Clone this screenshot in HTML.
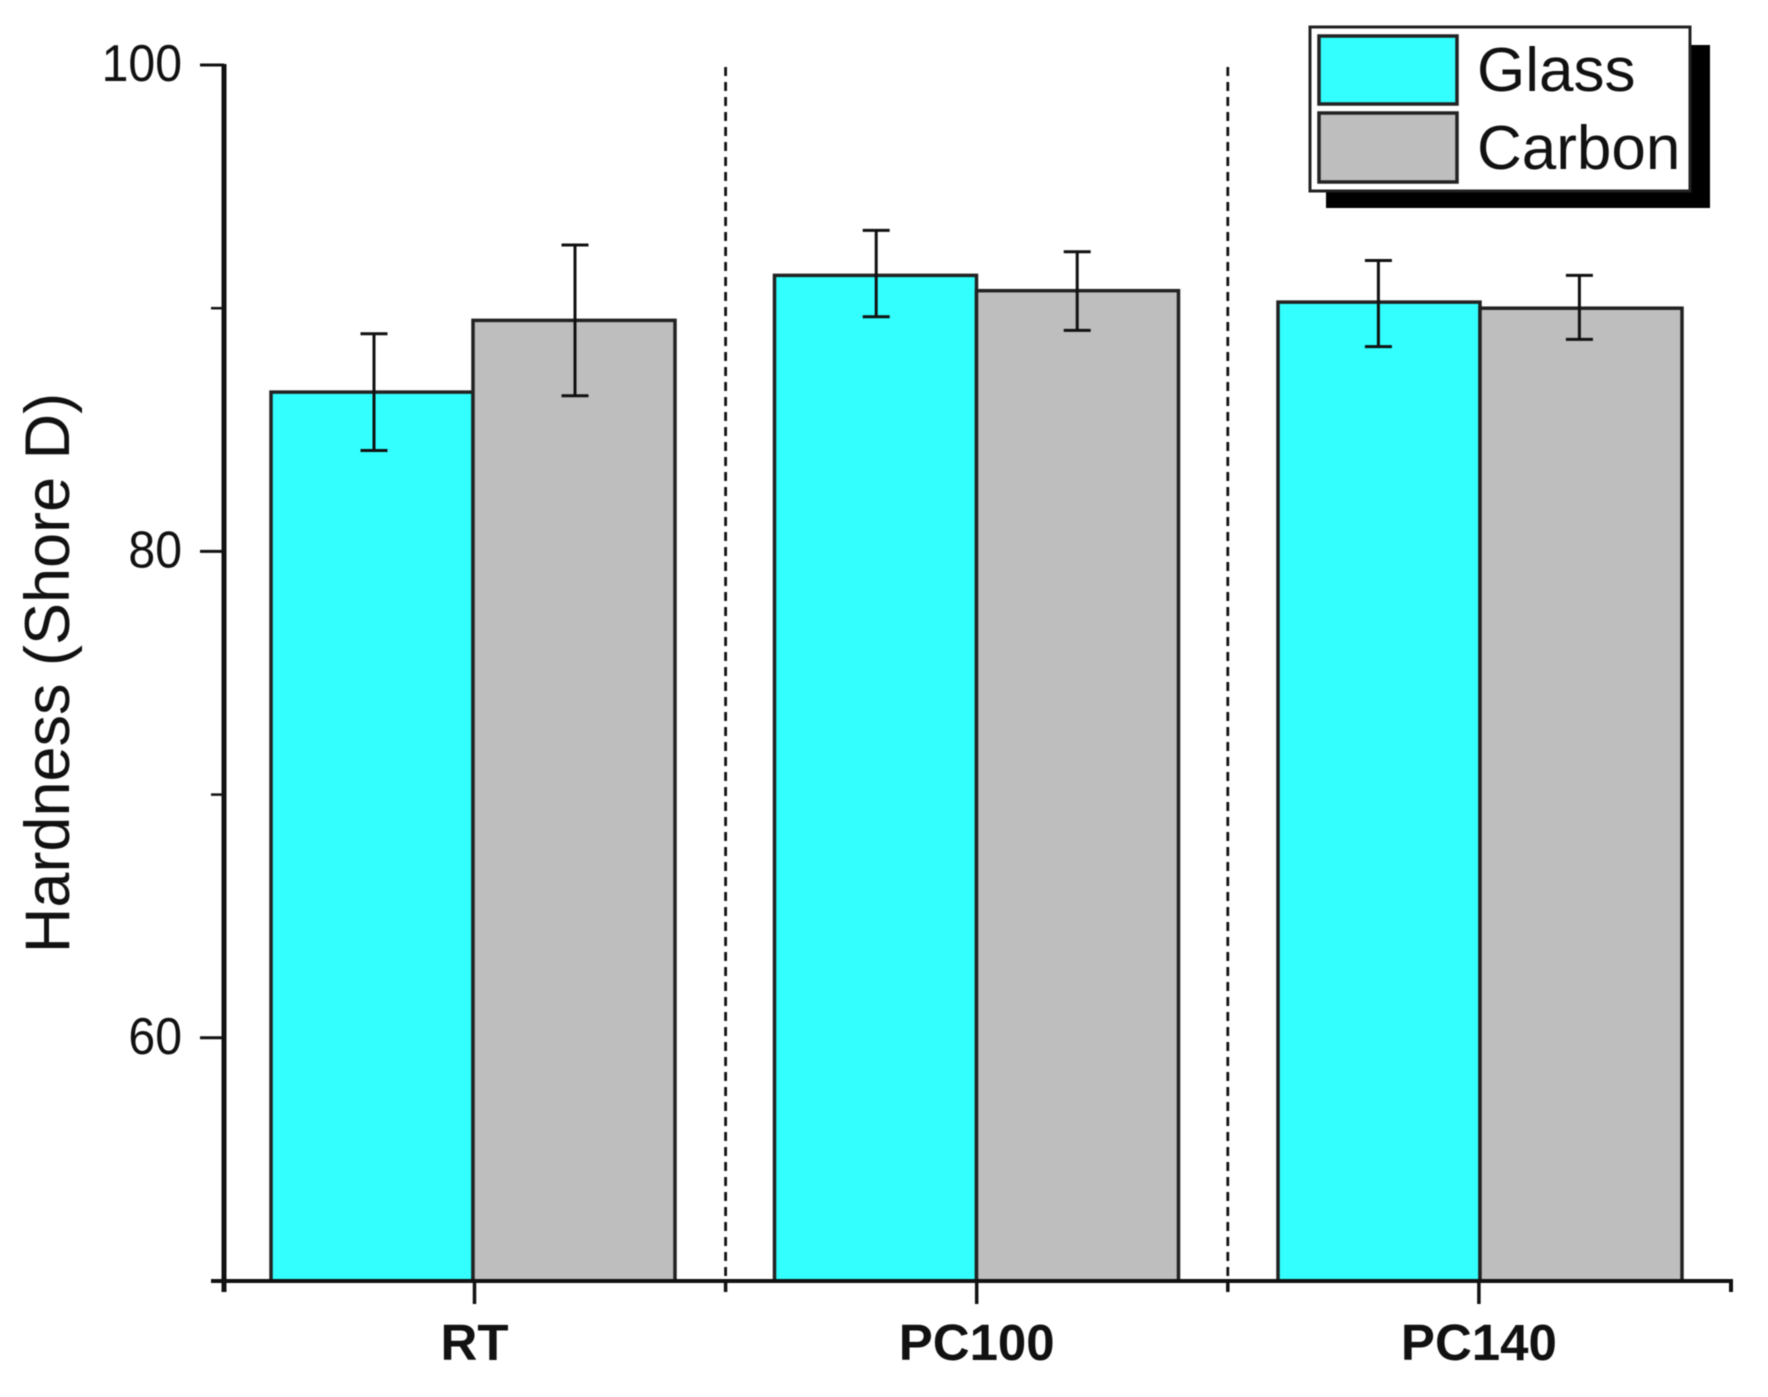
<!DOCTYPE html>
<html lang="en">
<head>
<meta charset="utf-8">
<title>Hardness (Shore D) bar chart</title>
<style>
  html, body { margin: 0; padding: 0; background: #ffffff; }
  body { width: 1768px; height: 1397px; overflow: hidden; }
  svg { display: block; filter: blur(0.5px); }
  text { font-family: "Liberation Sans", Arial, sans-serif; fill: #111111; }
</style>
</head>
<body>
<svg id="chart" xmlns="http://www.w3.org/2000/svg" width="1768" height="1397" viewBox="0 0 1768 1397">
  <rect x="0" y="0" width="1768" height="1397" fill="#ffffff"/>
  <g id="bars"></g>
  <g id="separators"></g>
  <g id="errors"></g>
  <g id="axes"></g>
  <text transform="translate(69 673) rotate(-90)" text-anchor="middle" font-size="63">Hardness (Shore D)</text>
  <g>
    <rect x="1326" y="45" width="384" height="163" fill="#000000"/>
    <rect x="1310" y="27" width="380" height="164" fill="#ffffff" stroke="#222222" stroke-width="3"/>
    <rect x="1319" y="36" width="138" height="68" fill="#33ffff" stroke="#222222" stroke-width="3.5"/>
    <text x="1477" y="91" font-size="62">Glass</text>
    <rect x="1319" y="113" width="138" height="69" fill="#bebebe" stroke="#222222" stroke-width="3.5"/>
    <text x="1477" y="169" font-size="62">Carbon</text>
  </g>
</svg>
<script>
const categories = ['RT', 'PC100', 'PC140'];
const glassValues = [86.55, 91.35, 90.25];
const glassErrorsUp = [2.4, 1.85, 1.71];
const glassErrorsDown = [2.4, 1.7, 1.83];
const carbonValues = [89.5, 90.72, 90.0];
const carbonErrorsUp = [3.1, 1.6, 1.35];
const carbonErrorsDown = [3.1, 1.63, 1.28];
const majorTicks = [100, 80, 60];
const minorTicks = [90, 70, 50];
const tickLabels = ['100', '80', '60'];

const NS = 'http://www.w3.org/2000/svg';
const plotTop = 65;
const plotBottom = 1281;
const plotLeft = 224;
const plotRight = 1731;
const axisMin = 50;
const axisMax = 100;
const firstCenter = 474.5;
const step = 502.2;
const firstBarCenter = 473;
const barStep = 503.5;
const barWidth = 202;
const errorOffset = 100.5;

function yScale(v) {
  return plotBottom - (v - axisMin) / (axisMax - axisMin) * (plotBottom - plotTop);
}
function xCenter(i) {
  return firstCenter + step * i;
}
function xBar(i) {
  return firstBarCenter + barStep * i;
}
function make(tag, parent, attrs) {
  const el = document.createElementNS(NS, tag);
  for (const k in attrs) el.setAttribute(k, attrs[k]);
  parent.appendChild(el);
  return el;
}

const barsG = document.getElementById('bars');
const sepG = document.getElementById('separators');
const errG = document.getElementById('errors');
const axesG = document.getElementById('axes');

function drawBar(i, values, offset, fill, name) {
  const y = yScale(values[i]);
  const el = make('rect', barsG, {
    x: xBar(i) + offset, y: y, width: barWidth, height: plotBottom - y,
    fill: fill, stroke: '#222222', 'stroke-width': 3.5
  });
  
  
}
function drawError(i, values, up, down, offset, name) {
  const cx = xCenter(i) + offset;
  const top = yScale(values[i] + up[i]);
  const bot = yScale(values[i] - down[i]);
  const g = make('g', errG, { stroke: '#111111', 'stroke-width': 3, fill: 'none' });
  
  
  make('line', g, { x1: cx, x2: cx, y1: top, y2: bot });
  make('line', g, { x1: cx - 13.5, x2: cx + 13.5, y1: top, y2: top });
  make('line', g, { x1: cx - 13.5, x2: cx + 13.5, y1: bot, y2: bot });
}

categories.forEach(function (c, i) {
  drawBar(i, glassValues, -barWidth, '#33ffff', 'glass');
  drawBar(i, carbonValues, 0, '#bebebe', 'carbon');
});
categories.forEach(function (c, i) {
  drawError(i, glassValues, glassErrorsUp, glassErrorsDown, -errorOffset, 'glass');
  drawError(i, carbonValues, carbonErrorsUp, carbonErrorsDown, errorOffset, 'carbon');
});

for (let i = 0; i < categories.length - 1; i++) {
  const sx = (xCenter(i) + xCenter(i + 1)) / 2;
  const sep = make('line', sepG, {
    x1: sx, x2: sx, y1: plotTop + 2, y2: plotBottom,
    stroke: '#111111', 'stroke-width': 2.8, 'stroke-dasharray': '9 6'
  });
  
  
  const st = make('line', axesG, {
    x1: sx, x2: sx, y1: plotBottom, y2: plotBottom + 11,
    stroke: '#111111', 'stroke-width': 3.5
  });
  
  
}

const yAxis = make('line', axesG, {
  x1: plotLeft, x2: plotLeft, y1: plotTop - 1, y2: plotBottom + 11,
  stroke: '#111111', 'stroke-width': 5
});



const xAxis = make('line', axesG, {
  x1: 211, x2: plotRight + 2, y1: plotBottom, y2: plotBottom,
  stroke: '#111111', 'stroke-width': 4
});



const xEnd = make('line', axesG, {
  x1: plotRight, x2: plotRight, y1: plotBottom, y2: plotBottom + 11,
  stroke: '#111111', 'stroke-width': 4
});



majorTicks.forEach(function (v, i) {
  const y = yScale(v);
  const t = make('line', axesG, {
    x1: 200, x2: plotLeft, y1: y, y2: y, stroke: '#111111', 'stroke-width': 3
  });
  
  
  const label = make('text', axesG, {
    x: 182, y: y + 16, 'text-anchor': 'end', 'font-size': 52,
    textLength: tickLabels[i].length * 26.8, lengthAdjust: 'spacingAndGlyphs'
  });
  label.textContent = tickLabels[i];
  
  
});
minorTicks.forEach(function (v) {
  const y = yScale(v);
  const t = make('line', axesG, {
    x1: 211, x2: plotLeft, y1: y, y2: y, stroke: '#111111', 'stroke-width': 2.5
  });
  
  
});

categories.forEach(function (c, i) {
  const x = xCenter(i);
  const t = make('line', axesG, {
    x1: x, x2: x, y1: plotBottom, y2: plotBottom + 23, stroke: '#111111', 'stroke-width': 3.5
  });
  
  
  const label = make('text', axesG, {
    x: x, y: 1360, 'text-anchor': 'middle', 'font-size': 51, 'font-weight': 'bold'
  });
  label.textContent = c;
  
  
});
</script>
</body>
</html>
